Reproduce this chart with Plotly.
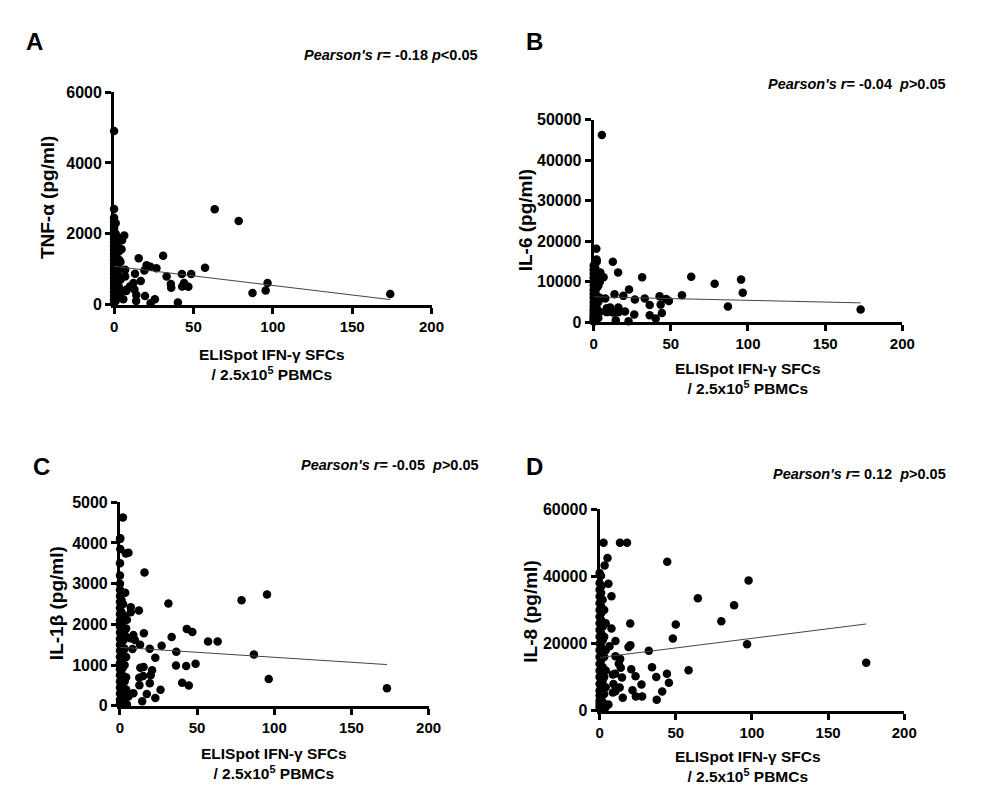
import plotly.graph_objects as go

W, H = 990, 799

# ---------------- data ----------------
tnf_x = [0, 0, 0, 0, 0, 0, 0, 0, 0, 0, 0, 0, 0, 0, 0, 0, 0, 0, 0, 0, 0, 0, 0, 0, 0, 0, 0,
         1, 1, 1, 1, 1, 1, 1, 1, 1, 1, 1, 1,
         2, 2, 2, 2, 2, 2, 2, 2,
         3, 3, 3, 3, 3, 4, 4, 4,
         6.4, 5, 4.7, 15.5, 30.9, 20.5, 22.9, 26.7, 57.3, 13.2, 19.1, 33.1, 42.7, 48.6,
         16.8, 12.2, 35.8, 36, 44.1, 42.9, 46.8, 96.7, 95.5, 87.2, 19.5, 13.9, 25.7, 23,
         40.2, 7.7, 12.8, 14, 5.8, 7, 7, 3.3, 7.9, 10.1, 63.4, 78.5, 174]
tnf_y = [4900, 2700, 2450, 2350, 2250, 2150, 2050, 1950, 1850, 1750, 1650, 1550, 1450, 1350,
         1250, 1150, 1050, 950, 850, 750, 650, 550, 450, 350, 250, 150, 60,
         2300, 2000, 1800, 1600, 1400, 1200, 1000, 800, 600, 400, 200, 100,
         1900, 1700, 1300, 1100, 900, 700, 500, 300,
         1500, 1000, 800, 500, 250, 1200, 700, 350,
         1950, 1815, 1565, 1306, 1380, 1111, 1065, 1028, 1037, 870, 963, 796, 861, 861,
         667, 611, 583, 472, 611, 509, 500, 611, 398, 324, 241, 102, 148, 37,
         56, 380, 426, 269, 148, 796, 981, 1259, 426, 518, 2694, 2361, 300]

il6_x = [0, 0, 0, 0, 0, 0, 0, 0, 0, 0, 0, 0, 0, 0, 0, 0, 0, 0,
         1, 1, 1, 1, 1, 1, 1, 1, 1, 1,
         2, 2, 2, 2, 2, 2, 2,
         3, 3, 3, 3, 4, 4, 4,
         5.3, 1.7, 1.9, 12.4, 15.8, 31.4, 63.2, 78.4, 95.5, 96.6, 87, 57.2, 22.9, 13.5,
         19.2, 26.7, 33.1, 42.7, 47, 48.7, 36.3, 43.4, 44.2, 36.3, 40.2, 26.3, 22.6, 14.3,
         8.5, 10.7, 16, 20.3, 16, 12.4, 8.5, 7.5, 6.4, 4.3, 173]
il6_y = [14000, 13000, 12000, 11000, 10000, 9000, 8000, 7000, 6000, 5000, 4000, 3200,
         2500, 1800, 1200, 700, 300, 100,
         13500, 12500, 10500, 9500, 7500, 5500, 4500, 3000, 1500, 500,
         15000, 11500, 8500, 6500, 3500, 2000, 800,
         12000, 9000, 5000, 1000, 10000, 6000, 2500,
         46200, 18100, 15460, 14900, 12260, 11060, 11220, 9460, 10500, 7290, 3850, 6650,
         8090, 6890, 6490, 5610, 5850, 6410, 5690, 5210, 4250, 4330, 2240, 1680, 880,
         1920, 240, 480, 2480, 3600, 3600, 2640, 2480, 2400, 3450, 5850, 11060, 12260, 3125]

il1b_x = [0, 0, 0, 0, 0, 0, 0, 0, 0, 0, 0, 0, 0, 0, 0, 0, 0, 0, 0, 0, 0, 0, 0, 0, 0, 0,
          1, 1, 1, 1, 1, 1, 1, 1, 1, 1, 1, 1,
          2, 2, 2, 2, 2, 2, 2, 2, 2,
          3, 3, 3, 3, 3, 3, 4, 4, 4, 4,
          1.9, 0.2, 0.2, 3.8, 5.5, 15.9, 3.4, 78.8, 95.3, 31.4, 7, 7, 12.3, 4.5, 43.3,
          46.9, 15.5, 8.7, 6.6, 9.6, 33.5, 57.1, 63.3, 13, 27, 19.3, 36.5, 8.1, 86.8,
          22.9, 36.3, 42.9, 49, 20.8, 13.2, 15.3, 19.9, 12.5, 15, 96.4, 40.3, 44.6,
          19.3, 12.6, 26.3, 17.4, 22.9, 14.4, 8.7, 5.5, 4.5, 173]
il1b_y = [4100, 3200, 3000, 2850, 2700, 2550, 2400, 2250, 2100, 1950, 1800, 1650, 1500,
          1350, 1200, 1050, 900, 750, 600, 450, 300, 150, 50, 3500, 2000, 1000,
          2600, 2300, 2000, 1700, 1400, 1100, 800, 500, 250, 100, 1550, 1250,
          2500, 2100, 1850, 1600, 1300, 950, 650, 350, 150,
          2200, 1750, 1400, 1000, 600, 200, 1900, 1200, 700, 400,
          4623, 4119, 3854, 3742, 3760, 3277, 2780, 2596, 2732, 2516, 2420, 2300, 2340,
          2115, 1890, 1811, 1780, 1740, 1660, 1620, 1690, 1580, 1580, 1498, 1474, 1402,
          1330, 1394, 1258, 1178, 993, 977, 1033, 873, 937, 953, 753, 689, 730, 657, 569,
          497, 553, 505, 393, 288, 192, 112, 312, 232, 30, 433]

il8_x = [0, 0, 0, 0, 0, 0, 0, 0, 0, 0, 0, 0, 0, 0, 0, 0, 0, 0, 0, 0, 0, 0,
         1, 1, 1, 1, 1, 1, 1, 1, 1, 1, 1,
         2, 2, 2, 2, 2, 2, 2, 2,
         3, 3, 3, 3, 3, 4, 4, 4, 4,
         2.6, 13.4, 18, 5.2, 3.3, 44.4, 0.9, 97.8, 5.8, 1.3, 7.8, 64.5, 88.3, 79.9, 50,
         20.1, 7.8, 48.1, 10.4, 96.8, 20.2, 19, 6.5, 32.3, 10.4, 13.5, 12.6, 13.9, 20.8,
         34.4, 58.4, 10.2, 8.7, 14.7, 23.6, 37.2, 44.2, 45.5, 27.5, 9.1, 13.2, 21.6, 10.4,
         8.7, 41.1, 23.8, 27.9, 15.2, 37.5, 5.8, 3.7, 175]
il8_y = [38000, 36000, 34000, 32000, 30000, 28000, 26000, 24000, 22000, 20000, 18000,
         16000, 14000, 12000, 10000, 8000, 6000, 4500, 3000, 2000, 1000, 41000,
         35000, 31000, 27000, 23000, 19000, 15000, 11000, 7000, 5000, 3500, 29000,
         33000, 25000, 21000, 17000, 13000, 9000, 6000, 2500,
         30000, 22000, 16000, 10000, 5000, 26000, 18000, 12000, 7000,
         50000, 50000, 50000, 45440, 43200, 44360, 40200, 38740, 37780, 37090, 34080,
         33500, 31370, 26600, 25630, 25930, 24470, 21460, 20770, 19810, 19520, 18930,
         19220, 17870, 16210, 15430, 14000, 12820, 12330, 12930, 12040, 10980, 10790,
         9900, 10290, 10000, 10980, 8350, 7770, 7960, 6890, 6120, 5830, 5440, 5730, 4270,
         4270, 3880, 3300, 1840, 900, 14270]

# linear fit lines (intercept, slope)
fit_intercept = [1080, 6250, 1437, 15822]
fit_slope = [-5.4, -8.6, -2.45, 57.1]

y_titles = ["TNF-α (pg/ml)", "IL-6 (pg/ml)", "IL-1β (pg/ml)", "IL-8 (pg/ml)"]
y_max = [6000, 50000, 5000, 60000]
y_dtick = [2000, 10000, 1000, 20000]
x_max = 200
x_dtick = 50
letters = ["A", "B", "C", "D"]
stats = ["-0.18", "-0.04", "-0.05", "0.12"]
p_ops = ["&lt;", "&gt;", "&gt;", "&gt;"]
stat_gap = ["&nbsp;", "&nbsp;&nbsp;", "&nbsp;&nbsp;", "&nbsp;&nbsp;"]

# ---------------- layout geometry (pixels) ----------------
boxes = [(112, 435, 303, 86), (600, 914, 321, 114), (118, 432, 713, 505), (606, 916, 718, 512)]
letter_pos = [(31, 34), (540, 34), (38, 468), (540, 468)]
stat_pos = [(484, 48), (960, 78), (485, 467), (960, 476)]
ytitle_pos = [(45, 193), (531, 217), (53, 608), (536, 617)]
xtitle_pos = [(273, 364), (757, 379), (275, 772), (757, 775)]

def fx(px):
    return px / W

def fy(py):
    return 1 - py / H

series = [(tnf_x, tnf_y), (il6_x, il6_y), (il1b_x, il1b_y), (il8_x, il8_y)]

fig = go.Figure()
FONT = "Arial, Liberation Sans, sans-serif"
annotations = []

for i, (xs, ys) in enumerate(series):
    n = "" if i == 0 else str(i + 1)
    xa, ya = "x" + n, "y" + n
    fig.add_trace(go.Scatter(x=xs, y=ys, mode="markers", xaxis=xa, yaxis=ya,
                             marker=dict(color="black", size=8.5), cliponaxis=False,
                             showlegend=False, hoverinfo="skip"))
    xmx = max(xs)
    fig.add_trace(go.Scatter(x=[0, xmx],
                             y=[fit_intercept[i], fit_intercept[i] + fit_slope[i] * xmx],
                             mode="lines", xaxis=xa, yaxis=ya,
                             line=dict(color="#444444", width=1), cliponaxis=False,
                             showlegend=False, hoverinfo="skip"))
    x0, x1, yb, yt = boxes[i]
    common = dict(showgrid=False, zeroline=False, showline=True, linecolor="black",
                  linewidth=3, ticks="outside", ticklen=6, tickwidth=3, tickcolor="black",
                  tickformat="d")
    fig.layout["xaxis" + n] = dict(domain=[fx(x0), fx(x1)], anchor=ya, range=[0, x_max],
                                   dtick=x_dtick, tick0=0,
                                   tickfont=dict(family=FONT, size=15, color="black", weight="bold"),
                                   **common)
    fig.layout["yaxis" + n] = dict(domain=[fy(yb), fy(yt)], anchor=xa, range=[0, y_max[i]],
                                   dtick=y_dtick[i], tick0=0,
                                   tickfont=dict(family=FONT, size=16, color="black", weight="bold"),
                                   **common)
    lx, ly = letter_pos[i]
    annotations.append(dict(text="<b>%s</b>" % letters[i], x=fx(lx), y=fy(ly), xref="paper",
                            yref="paper", showarrow=False, xanchor="center", yanchor="middle",
                            font=dict(family=FONT, size=24, color="black")))
    sx, sy = stat_pos[i]
    annotations.append(dict(text="<b><i>Pearson's r</i>= %s%s<i>p</i>%s0.05</b>"
                                 % (stats[i], stat_gap[i], p_ops[i]),
                            x=fx(sx), y=fy(sy), xref="paper", yref="paper", showarrow=False,
                            xanchor="right", yanchor="middle",
                            font=dict(family=FONT, size=14.5, color="black")))
    tx, ty = ytitle_pos[i]
    annotations.append(dict(text="<b>%s</b>" % y_titles[i], x=fx(tx), y=fy(ty), xref="paper",
                            yref="paper", showarrow=False, textangle=-90, xanchor="center",
                            yanchor="middle", font=dict(family=FONT, size=19, color="black")))
    qx, qy = xtitle_pos[i]
    annotations.append(dict(text="<b>ELISpot IFN-γ SFCs<br>/ 2.5x10<sup>5</sup> PBMCs</b>",
                            x=fx(qx), y=fy(qy), xref="paper", yref="paper", showarrow=False,
                            xanchor="center", yanchor="middle",
                            font=dict(family=FONT, size=15.5, color="black")))

fig.update_layout(width=W, height=H, margin=dict(l=0, r=0, t=0, b=0),
                  paper_bgcolor="white", plot_bgcolor="white", annotations=annotations,
                  hovermode=False)

# pin the plot to the top-left corner of the page (no body margin)
pin = ("document.body.style.margin='0';"
       "var d=document.getElementById('{plot_id}');"
       "d.style.position='fixed';d.style.left='0px';d.style.top='0px';")
fig.write_html("out.html", post_script=pin, config={"displayModeBar": False})
